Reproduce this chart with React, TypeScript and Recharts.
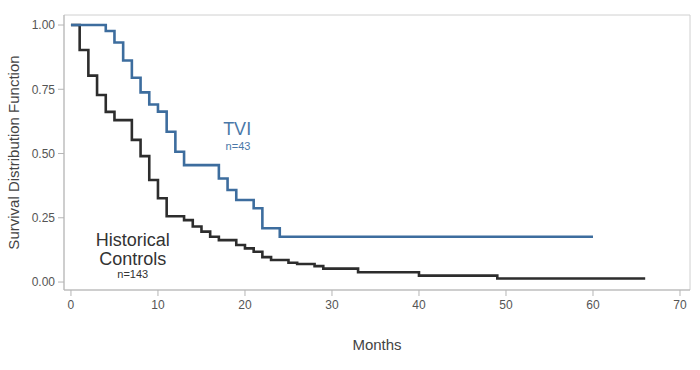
import { Line, LineChart, ReferenceArea, ReferenceDot, XAxis, YAxis } from "recharts";

// Kaplan-Meier steps (months, survival)
const tviMonths = [0, 4, 5, 6, 7, 8, 9, 10, 11, 12, 13, 17, 18, 19, 21, 22, 24, 60];
const tviSurvival = [1.0, 0.977, 0.932, 0.862, 0.795, 0.738, 0.691, 0.663, 0.585, 0.507, 0.455, 0.403, 0.358, 0.319, 0.287, 0.209, 0.176, 0.176];

const histMonths = [0, 1, 2, 3, 4, 5, 7, 8, 9, 10, 11, 13, 14, 15, 16, 17, 19, 20, 21, 22, 23, 25, 26, 28, 29, 33, 40, 49, 66];
const histSurvival = [1.0, 0.903, 0.803, 0.728, 0.662, 0.63, 0.553, 0.49, 0.397, 0.326, 0.256, 0.241, 0.216, 0.196, 0.176, 0.163, 0.144, 0.131, 0.118, 0.097, 0.086, 0.075, 0.07, 0.062, 0.052, 0.038, 0.025, 0.014, 0.014];

const xTicks = [0, 10, 20, 30, 40, 50, 60, 70];
const yTicks = [0, 0.25, 0.5, 0.75, 1];

const xDomain = [-0.8, 71.15];
const yDomain = [-0.031, 1.039];

const tviData = tviMonths.map((t, i) => ({ t, s: tviSurvival[i] }));
const histData = histMonths.map((t, i) => ({ t, s: histSurvival[i] }));

const BLUE = "#3d6d9e";
const DARK = "#2d2d2d";
const FONT = "'Liberation Sans', Arial, sans-serif";

export default function App() {
  return (
    <div style={{ fontFamily: FONT }}>
      <style>{`body { margin: 0; }`}</style>
      <LineChart width={700} height={370} margin={{ top: 15, right: 10, bottom: 18, left: 0 }}>
        <ReferenceArea x1={xDomain[0]} x2={xDomain[1]} y1={yDomain[0]} y2={yDomain[1]} fill="none" stroke="#d0d0d0" strokeWidth={1} />
        <XAxis
          type="number"
          dataKey="t"
          domain={xDomain}
          ticks={xTicks}
          allowDataOverflow
          height={62}
          tickSize={6}
          tickMargin={4}
          stroke="#b5b5b5"
          tick={{ fill: "#555", fontSize: 12, fontFamily: FONT }}
          label={{ value: "Months", position: "insideBottom", offset: 2, fill: "#444", fontSize: 15, fontFamily: FONT }}
        />
        <YAxis
          type="number"
          domain={yDomain}
          ticks={yTicks}
          allowDataOverflow
          width={64}
          tickSize={6}
          tickMargin={3}
          stroke="#b5b5b5"
          tickFormatter={(v: number) => v.toFixed(2)}
          tick={{ fill: "#555", fontSize: 12, fontFamily: FONT }}
          label={{ value: "Survival Distribution Function", angle: -90, position: "insideLeft", offset: 14, fill: "#444", fontSize: 15, fontFamily: FONT, style: { textAnchor: "middle" } }}
        />
        <Line data={histData} dataKey="s" type="stepAfter" stroke={DARK} strokeWidth={2.6} dot={false} isAnimationActive={false} />
        <Line data={tviData} dataKey="s" type="stepAfter" stroke={BLUE} strokeWidth={2.6} dot={false} isAnimationActive={false} />
        <ReferenceDot x={19.1} y={0.597} r={0} fill="none" stroke="none" label={{ value: "TVI", position: "center", fill: "#4a78a8", fontSize: 18, fontFamily: FONT }} />
        <ReferenceDot x={19.2} y={0.527} r={0} fill="none" stroke="none" label={{ value: "n=43", position: "center", fill: "#4a78a8", fontSize: 11, fontFamily: FONT }} />
        <ReferenceDot x={7.1} y={0.167} r={0} fill="none" stroke="none" label={{ value: "Historical", position: "center", fill: "#333", fontSize: 18, fontFamily: FONT }} />
        <ReferenceDot x={7.1} y={0.092} r={0} fill="none" stroke="none" label={{ value: "Controls", position: "center", fill: "#333", fontSize: 18, fontFamily: FONT }} />
        <ReferenceDot x={7.1} y={0.031} r={0} fill="none" stroke="none" label={{ value: "n=143", position: "center", fill: "#333", fontSize: 11, fontFamily: FONT }} />
      </LineChart>
    </div>
  );
}
